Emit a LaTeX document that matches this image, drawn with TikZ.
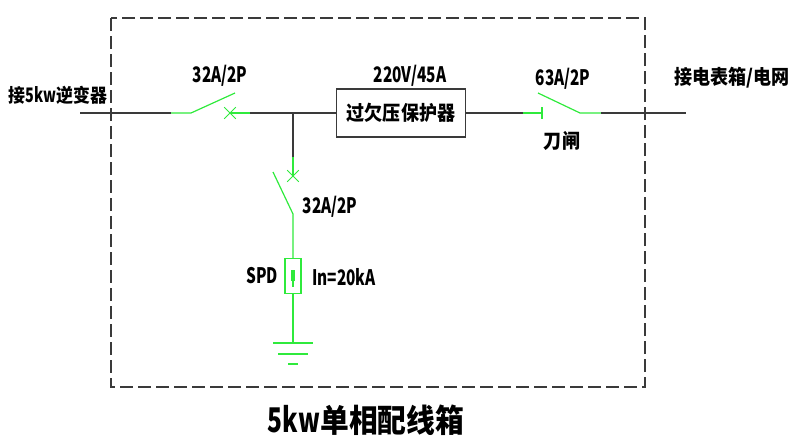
\documentclass[tikz,border=0pt]{standalone}
\usepackage{fontspec}
\usepackage{tikz}
\usetikzlibrary{shapes.misc}
\usetikzlibrary{positioning,calc}
\setmainfont{Liberation Sans}
\newfontfamily\cadfont[FakeStretch=0.72]{Noto Sans CJK SC}
\newfontfamily\cadcjk[FakeStretch=0.9,Scale=0.94]{Noto Sans CJK SC}
\definecolor{wiregreen}{HTML}{2FEA3C}
\definecolor{wiregray}{HTML}{3A3A3A}
\tikzset{
	wire/.style={draw=wiregray, line width=0.9pt},
	greenwire/.style={draw=wiregreen, line width=0.9pt},
	breaker/.style={cross out, draw=wiregreen, line width=0.7pt, inner sep=0pt, minimum size=8pt},
	label/.style={inner sep=0pt, text=black, font=\cadfont\bfseries\fontsize{16}{16}\selectfont},
	cnlabel/.style={inner sep=0pt, text=black, font=\cadcjk\bfseries\fontsize{16}{16}\selectfont},
	title/.style={inner sep=0pt, text=black, font=\cadcjk\bfseries\fontsize{25.5}{25.5}\selectfont},
	device/.style={draw=wiregray, line width=0.9pt, inner sep=0pt, minimum width=97pt, minimum height=36pt}
}

\begin{document}
\begin{tikzpicture}[x=0.75pt, y=-0.75pt]

  \useasboundingbox (0,0) rectangle (800,447);

  % enclosure
  \draw[wiregray, line width=0.8pt, dash pattern=on 10pt off 3.5pt] (111,18) rectangle (645,387);

  \coordinate (inverter) at (80,113);
  \coordinate (qfin) at (171,113);
  \coordinate (qfhinge) at (191,113);
  \coordinate (qfblade) at (235,93);
  \node[breaker] (qfcross) at (230,113) {};
  \coordinate (qfout) at (250,113);
  \coordinate (tee) at (293,113);
  \node[device, cnlabel] (protector) at (401,113) {过欠压保护器};
  \coordinate (knifein) at (523,113);
  \coordinate (knifetick) at (542,113);
  \coordinate (kniferest) at (538,93);
  \coordinate (knifehinge) at (580,113);
  \coordinate (knifeout) at (601,113);
  \coordinate (grid) at (686,113);

  \draw[wire] (inverter) -- (qfin);
  \draw[greenwire] (qfin) -- (qfhinge) -- (qfblade);
  \draw[greenwire] (qfcross.center) -- (qfout);
  \draw[wire] (qfout) -- (protector);
  \draw[wire] (protector) -- (knifein);
  \draw[greenwire] (knifein) -- (knifetick);
  \draw[greenwire] ($(knifetick)+(0,-6)$) -- ($(knifetick)+(0,6)$);
  \draw[greenwire] (kniferest) -- (knifehinge) -- (knifeout);
  \draw[wire] (knifeout) -- (grid);

  % spd branch
  \coordinate (spdtap) at (293,157);
  \node[breaker] (spdcross) at (293,176) {};
  \coordinate (spdblade) at (273,172);
  \coordinate (spdhinge) at (293,214);
  \node[draw=wiregreen, line width=0.9pt, inner sep=0pt, minimum width=12pt, minimum height=26pt] (spd) at (293,276) {};
  \coordinate (earth) at (293,343);

  \draw[wire] (tee) -- (spdtap);
  \draw[greenwire] (spdtap) -- (spdcross.center);
  \draw[greenwire] (spdblade) -- (spdhinge) -- (spd);
  \draw[greenwire] (spd) -- (earth);
  \draw[greenwire, line width=3.5pt] (293,270) -- (293,281);
  \draw[greenwire] (293,270) -- (293,287);
  \draw[greenwire, line width=1.4pt] (273,343) -- (313,343);
  \draw[greenwire, line width=1.1pt] (278,354) -- (308,354);
  \draw[greenwire, line width=1.1pt] (288,364) -- (298,364);

  \node[cnlabel] (inlabel) at (58,95) {\fontsize{15}{15}\selectfont 接{\cadfont\bfseries 5kw}逆变器};
  \node[label] (qflabel) at (220,76) {32A/2P};
  \node[label] (ratelabel) at (410,76) {220V/45A};
  \node[label] (knifelabel) at (563,79) {63A/2P};
  \node[cnlabel] (kniferemark) at (562,141) {刀闸};
  \node[cnlabel] (gridlabel) at (732,78) {接电表箱/电网};
  \node[label] (spdqflabel) at (330,207) {32A/2P};
  \node[label] (spdlabel) at (262,276) {SPD};
  \node[label] (inrating) at (344,277) {In=20kA};
  \node[title] (boxtitle) at (366,420) {{\cadfont\bfseries 5kw}单相配线箱};

\end{tikzpicture}
\end{document}
